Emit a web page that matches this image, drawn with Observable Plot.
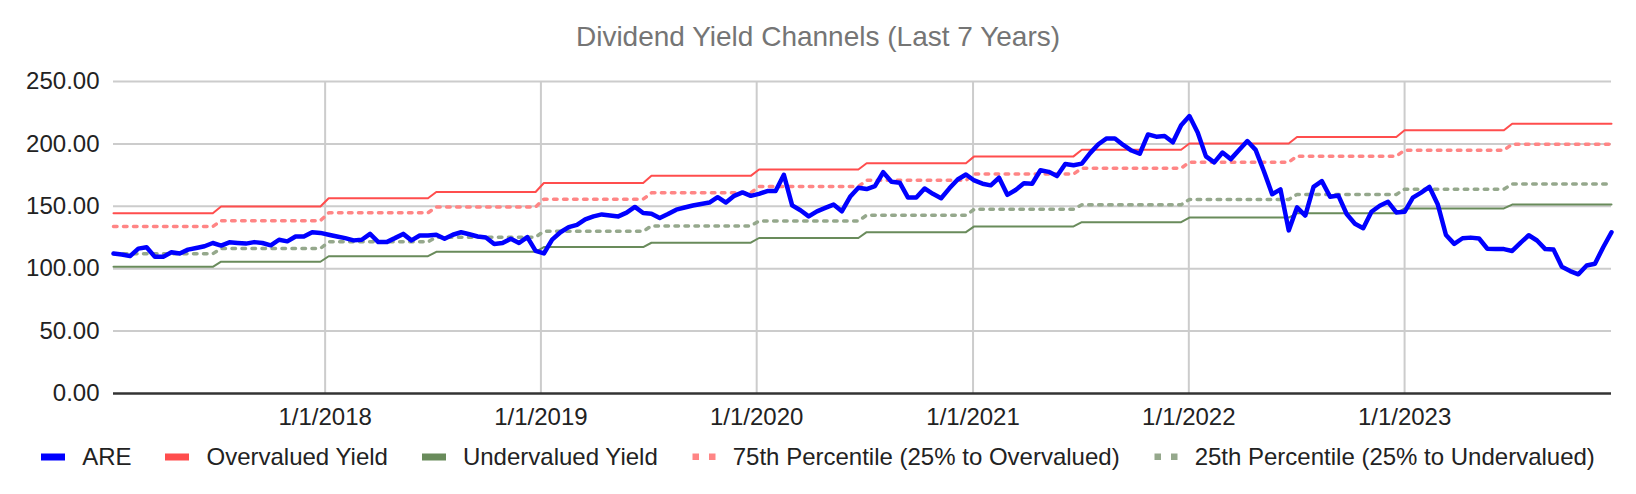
<!DOCTYPE html>
<html>
<head>
<meta charset="utf-8">
<script src="https://cdn.jsdelivr.net/npm/d3@7"></script>
<script src="https://cdn.jsdelivr.net/npm/@observablehq/plot@0.6"></script>
<style>
  html, body { margin: 0; padding: 0; background: #fff; }
  body { width: 1636px; height: 494px; overflow: hidden; font-family: "Liberation Sans", Arial, sans-serif; }
  #title { height: 56px; box-sizing: border-box; padding-top: 23px; line-height: 28px; font-size: 28px; color: #757575; text-align: center; }
  #legend { height: 54px; display: flex; justify-content: center; align-items: flex-start; font-size: 24px; color: #222; }
  #legend .row { height: 34px; display: flex; align-items: center; }
  #legend .item { display: flex; align-items: center; margin: 0 17px; line-height: 1; white-space: nowrap; }
  #legend svg { margin-right: 17px; display: block; }
</style>
</head>
<body>
<div id="title">Dividend Yield Channels (Last 7 Years)</div>
<div id="chart"></div>
<div id="legend"><div class="row" id="legendRow"></div></div>
<script>
// ---- data (biweekly observations, first on 2017-01-08) ----
const startDate = "2017-01-08";
const stepDays = 14;

const areYield = [
  112.2, 111.4, 110.1, 116.1, 117.2, 109.5, 109.5, 113.2, 112.2, 115.3,
  116.6, 118.0, 120.6, 118.5, 121.1, 120.6, 120.1, 121.3, 120.6, 118.7,
  123.2, 121.9, 125.8, 125.8, 129.2, 128.7, 127.2, 125.8, 124.5, 122.7,
  123.2, 127.9, 121.3, 121.3, 124.5, 127.9, 122.7, 126.6, 126.6, 127.2,
  124.0, 127.2, 129.2, 127.6, 125.8, 125.0, 119.8, 120.6, 124.0, 120.6,
  125.3, 114.3, 112.2, 123.3, 129.2, 133.3, 135.1, 139.5, 141.9, 143.5,
  142.7, 141.9, 144.9, 149.5, 144.6, 144.1, 140.6, 143.8, 147.3, 149.0,
  150.6, 151.9, 153.0, 157.3, 153.0, 158.4, 161.1, 158.4, 160.0, 162.2,
  162.2, 175.2, 150.8, 146.8, 141.9, 146.0, 148.7, 151.4, 146.0, 157.6,
  164.9, 163.8, 166.2, 177.3, 169.7, 168.9, 157.0, 157.0, 164.3, 160.0,
  156.5, 164.4, 171.5, 175.5, 170.7, 168.1, 166.8, 172.9, 159.2, 163.1,
  168.4, 168.1, 178.9, 177.6, 174.2, 183.9, 182.9, 184.2, 192.6, 199.7,
  204.4, 204.4, 199.2, 194.7, 192.1, 207.6, 205.8, 206.3, 201.3, 215.0,
  222.3, 209.2, 190.0, 185.2, 193.1, 187.8, 195.2, 202.3, 195.2, 178.1,
  159.7, 163.6, 130.7, 149.1, 142.6, 165.5, 170.2, 157.6, 158.6, 143.8,
  136.0, 132.4, 145.6, 150.4, 153.6, 145.1, 145.6, 157.0, 161.0, 165.5,
  151.7, 127.0, 119.9, 124.4, 124.9, 124.2, 116.0, 115.8, 115.7, 114.2,
  120.7, 126.8, 122.6, 115.7, 115.3, 101.5, 98.1, 95.5, 102.6, 104.0,
  117.2, 129.2
];

// channel levels, one per half-year
const halfYears = ["2017 H1","2017 H2","2018 H1","2018 H2","2019 H1","2019 H2","2020 H1","2020 H2",
                   "2021 H1","2021 H2","2022 H1","2022 H2","2023 H1","2023 H2"];
const overvalued  = [144.5, 149.8, 156.5, 161.5, 168.7, 174.4, 179.5, 184.5, 190.0, 195.3, 200.3, 205.5, 210.9, 216.2];
const pct75       = [133.8, 138.5, 144.8, 149.5, 155.7, 160.8, 165.8, 170.8, 175.8, 180.5, 185.3, 190.2, 195.0, 199.8];
const pct25       = [112.0, 116.2, 121.5, 125.3, 130.0, 134.3, 138.2, 142.9, 147.6, 151.3, 155.5, 159.5, 163.7, 167.9];
const undervalued = [101.5, 105.6, 110.0, 113.5, 117.3, 120.8, 124.6, 129.3, 133.9, 137.3, 141.0, 144.4, 148.3, 151.4];

const yTicks = [0, 50, 100, 150, 200, 250];
const xTickYears = [2018, 2019, 2020, 2021, 2022, 2023];

const seriesNames = ["ARE", "Overvalued Yield", "Undervalued Yield", "75th Percentile (25% to Overvalued)", "25th Percentile (25% to Undervalued)"];
const seriesColors = ["#0000ff", "#ff4d4d", "#698b5b", "#ff8585", "#95a88c"];

// ---- build tables ----
const t0 = new Date(startDate + "T00:00:00Z");
const dates = areYield.map((_, i) => d3.utcDay.offset(t0, i * stepDays));
const halfIndex = d => (d.getUTCFullYear() - 2017) * 2 + (d.getUTCMonth() >= 6 ? 1 : 0);
const rows = levels => dates.map(d => ({date: d, value: levels[halfIndex(d)]}));
const areRows = dates.map((d, i) => ({date: d, value: areYield[i]}));
const xTicks = xTickYears.map(y => new Date(Date.UTC(y, 0, 1)));
const fmtDate = d => `${d.getUTCMonth() + 1}/${d.getUTCDate()}/${d.getUTCFullYear()}`;

const chart = Plot.plot({
  width: 1636,
  height: 384,
  marginTop: 25,
  marginBottom: 47,
  marginLeft: 113,
  marginRight: 25,
  style: {fontFamily: "'Liberation Sans', Arial, sans-serif", fontSize: "24px", color: "#222", background: "#fff"},
  x: {type: "utc", domain: [dates[0], dates[dates.length - 1]]},
  y: {domain: [0, 250]},
  marks: [
    Plot.ruleY(yTicks.filter(v => v > 0), {stroke: "#cccccc", strokeWidth: 2}),
    Plot.ruleX(xTicks, {stroke: "#cccccc", strokeWidth: 2}),
    Plot.ruleY([0], {stroke: "#333333", strokeWidth: 2.5}),
    Plot.line(rows(pct25), {x: "date", y: "value", stroke: seriesColors[4], strokeWidth: 3.5, strokeDasharray: "3.5,6.5"}),
    Plot.line(rows(pct75), {x: "date", y: "value", stroke: seriesColors[3], strokeWidth: 3.5, strokeDasharray: "3.5,6.5"}),
    Plot.line(rows(undervalued), {x: "date", y: "value", stroke: seriesColors[2], strokeWidth: 2}),
    Plot.line(rows(overvalued), {x: "date", y: "value", stroke: seriesColors[1], strokeWidth: 2}),
    Plot.line(areRows, {x: "date", y: "value", stroke: seriesColors[0], strokeWidth: 4.5, strokeLinejoin: "round"}),
    Plot.axisX(xTicks, {tickSize: 0, tickPadding: 14.5, tickFormat: fmtDate, label: null, fill: "#222"}),
    Plot.axisY(yTicks, {tickSize: 0, tickPadding: 14, tickFormat: d3.format(".2f"), label: null, fill: "#222"})
  ]
});
document.getElementById("chart").appendChild(chart);

// ---- legend ----
const legendRow = document.getElementById("legendRow");
seriesNames.forEach((name, i) => {
  const item = document.createElement("div");
  item.className = "item";
  const dotted = i >= 3;
  const sw = dotted
    ? `<svg width="24" height="8"><rect x="0.5" y="0.5" width="6.5" height="6.5" fill="${seriesColors[i]}"/><rect x="17" y="0.5" width="6.5" height="6.5" fill="${seriesColors[i]}"/></svg>`
    : `<svg width="24" height="8"><rect x="0" y="0.5" width="24" height="7" fill="${seriesColors[i]}"/></svg>`;
  item.innerHTML = sw + `<span>${name}</span>`;
  legendRow.appendChild(item);
});
</script>
</body>
</html>
